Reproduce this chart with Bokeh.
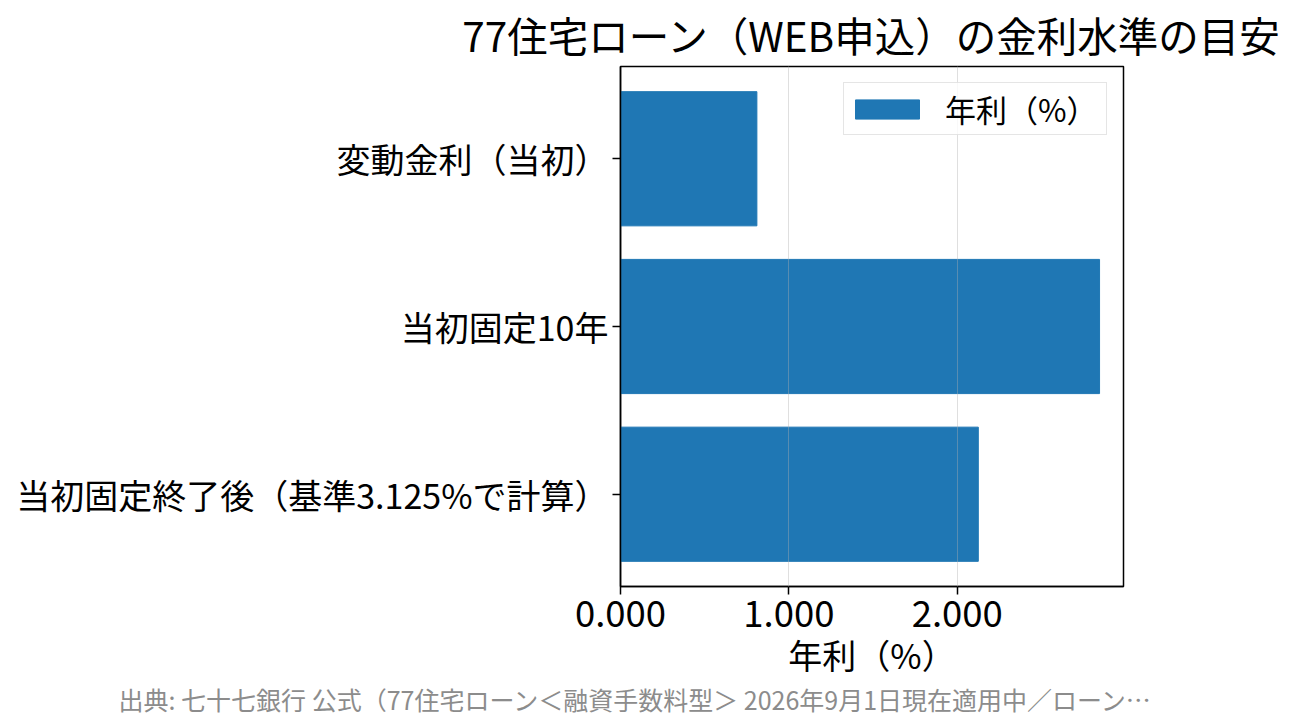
from bokeh.plotting import figure
from bokeh.models import FactorRange, Range1d, FixedTicker, NumeralTickFormatter, Legend, LegendItem, Title
from bokeh.embed import file_html
from bokeh.resources import INLINE

FONT = "Noto Sans CJK JP"

# データ（年利 %）
categories = ["変動金利（当初）", "当初固定10年", "当初固定終了後（基準3.125%で計算）"]
rates = [0.81, 2.845, 2.125]
x_ticks = [0, 1, 2]
title_text = "77住宅ローン（WEB申込）の金利水準の目安"
x_label = "年利（%）"
source_text = "出典: 七十七銀行 公式（77住宅ローン＜融資手数料型＞ 2026年9月1日現在適用中／ローン…"

p = figure(
    width=1290, height=720,
    y_range=FactorRange(factors=categories[::-1], range_padding=0.1 / 3),
    x_range=Range1d(0, max(rates) * 1.05),
    output_backend="svg", toolbar_location=None,
    min_border_left=620, min_border_right=167, min_border_top=66, min_border_bottom=134,
)

bars = p.hbar(y=categories, right=rates, left=0, height=0.8, color="#1f77b4")

p.title.text = title_text
p.title.align = "center"
p.title.vertical_align = "middle"
p.title.text_font = FONT
p.title.text_font_size = "40.5px"
p.title.text_font_style = "normal"
p.title.text_color = "black"
p.title.standoff = 4

p.xaxis.ticker = FixedTicker(ticks=x_ticks)
p.xaxis.formatter = NumeralTickFormatter(format="0.000")
p.xaxis.axis_label = x_label
for ax in (p.xaxis, p.yaxis):
    ax.major_label_text_font = FONT
    ax.major_label_text_color = "black"
    ax.axis_label_text_font = FONT
    ax.axis_label_text_font_size = "34px"
    ax.axis_label_text_font_style = "normal"
    ax.axis_label_text_color = "black"
    ax.major_tick_out = 8
    ax.major_tick_in = 0
    ax.minor_tick_out = 0
    ax.minor_tick_in = 0
    ax.axis_line_width = 1.5
    ax.major_tick_line_width = 1.5
p.xaxis.major_label_text_font_size = "36.5px"
p.yaxis.major_label_text_font_size = "34px"
p.xaxis.major_label_standoff = 5
p.xaxis.axis_label_standoff = 0
p.yaxis.major_label_standoff = 4

p.ygrid.grid_line_color = None
p.xgrid.grid_line_color = "#b0b0b0"
p.xgrid.grid_line_alpha = 0.4
p.xgrid.level = "annotation"

p.outline_line_color = "black"
p.outline_line_width = 1.5
p.outline_line_alpha = 1

legend = Legend(items=[LegendItem(label=x_label, renderers=[bars])], location="top_right")
legend.label_text_font = FONT
legend.label_text_font_size = "31px"
legend.label_text_color = "black"
legend.glyph_width = 80
legend.glyph_height = 24
legend.label_standoff = 18
legend.label_width = 158
legend.padding = 3
legend.margin = 16
legend.border_line_color = "#cccccc"
legend.border_line_width = 1.5
legend.background_fill_alpha = 0.8
p.add_layout(legend)

src = Title(text=source_text, align="left", offset=-502, standoff=-6,
            text_font=FONT, text_font_size="25px", text_color="#8c8c8c",
            text_font_style="normal")
p.add_layout(src, "below")

open("out.html", "w").write(file_html(p, INLINE))
